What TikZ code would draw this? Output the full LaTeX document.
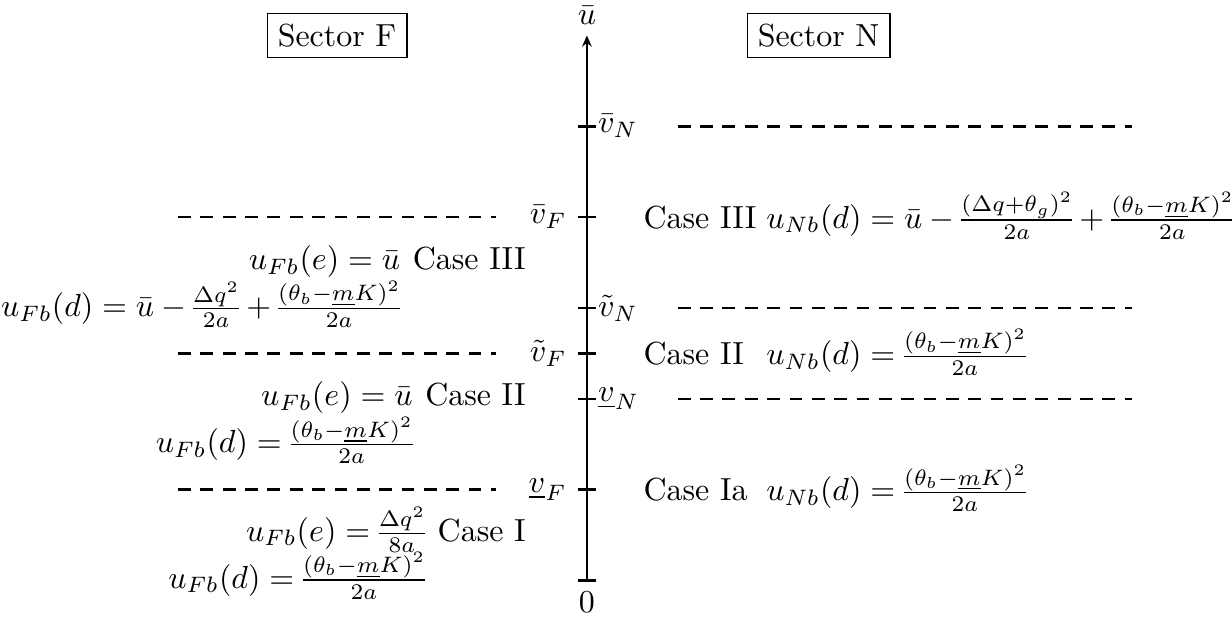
\documentclass[tikz,border=0pt]{standalone}
\usepackage{amsmath}
\usetikzlibrary{arrows.meta,positioning}
\setlength{\nulldelimiterspace}{0pt}

\begin{document}
\begin{tikzpicture}[
  >={Stealth[length=3.5pt,width=3pt]},
  axis/.style={thick},
  tickmark/.style={thick},
  level/.style={thick, dash pattern=on 4pt off 3pt},
  sector/.style={draw, inner sep=3.33pt},
  casebox/.style={anchor=east, inner sep=3.33pt},
]
\useasboundingbox (-6.46,-0.46) rectangle (7.10,6.39);

% vertical axis
\coordinate (O) at (0,0);
\coordinate (top) at (0,6);
\draw[axis, ->] (O) -- (top);
\node[above] (ubar) at (top) {$\bar u$};
\draw[tickmark] (-0.1,0) -- (0.1,0);
\node[below] (zero) at (O) {$0$};

% thresholds of sector N (right)
\foreach \y/\lab [count=\i] in {5/{\bar v_N}, 3/{\tilde v_N}, 2/{\underline{v}_N}} {
  \draw[tickmark] (-0.1,\y) -- (0.1,\y);
  \node[right] (thN\i) at (0,\y) {$\lab$};
  \draw[level] (1,\y) -- (6,\y);
}

% thresholds of sector F (left)
\foreach \y/\lab [count=\i] in {4/{\bar v_F}, 2.5/{\tilde v_F}, 1/{\underline{v}_F}} {
  \draw[tickmark] (-0.1,\y) -- (0.1,\y);
  \node[left] (thF\i) at (-0.1,\y) {$\lab$};
  \draw[level] (-4.5,\y) -- (-1,\y);
}

\node[sector] (secF) at (-2.75,6) {Sector F};
\node[sector] (secN) at (2.55,6) {Sector N};

% sector F cases
\node[casebox] (cFIII) at (-0.55,3.25) {$\begin{array}{@{}r@{\hspace{4pt}}r@{}}
  u_{Fb}(e)=\bar u & \text{Case III}\\
  u_{Fb}(d)=\bar u-\frac{\Delta q^2}{2a}+\frac{(\theta_b-\underline{m}K)^2}{2a} &
  \end{array}$};
\node[casebox] (cFII) at (-0.55,1.75) {$\begin{array}{@{}r@{\hspace{4pt}}r@{}}
  u_{Fb}(e)=\bar u & \text{Case II}\\
  u_{Fb}(d)=\frac{(\theta_b-\underline{m}K)^2}{2a} &
  \end{array}$};
\node[casebox] (cFI) at (-0.55,0.3) {$\begin{array}{@{}r@{\hspace{4pt}}r@{}}
  u_{Fb}(e)=\frac{\Delta q^2}{8a} & \text{Case I}\\
  u_{Fb}(d)=\frac{(\theta_b-\underline{m}K)^2}{2a} &
  \end{array}$};

% sector N cases
\coordinate (colN) at (1.85,0);
\node[right] (cNIII) at (0.5,4) {Case III};
\node[right] (cNII) at (0.5,2.5) {Case II};
\node[right] (cNIa) at (0.5,1) {Case Ia};
\node[anchor=base west] (uNIII) at (cNIII.base -| colN)
  {$u_{Nb}(d)=\bar u-\frac{(\Delta q+\theta_g)^2}{2a}+\frac{(\theta_b-\underline{m}K)^2}{2a}$};
\node[anchor=base west] (uNII) at (cNII.base -| colN)
  {$u_{Nb}(d)=\frac{(\theta_b-\underline{m}K)^2}{2a}$};
\node[anchor=base west] (uNIa) at (cNIa.base -| colN)
  {$u_{Nb}(d)=\frac{(\theta_b-\underline{m}K)^2}{2a}$};
\end{tikzpicture}
\end{document}
